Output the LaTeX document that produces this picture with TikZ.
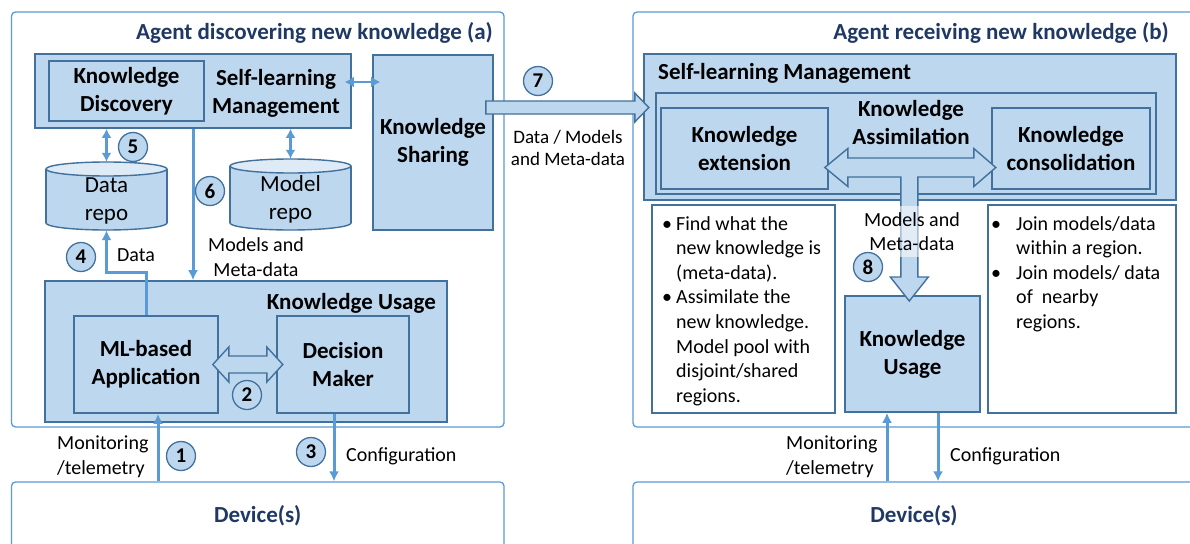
\documentclass[tikz,border=0pt]{standalone}
\usepackage{fontspec}
\setmainfont{Carlito}
\usetikzlibrary{arrows.meta,calc}
\definecolor{kfill}{HTML}{BDD7EE}
\definecolor{kborder}{HTML}{41719C}
\definecolor{kline}{HTML}{5B9BD5}
\definecolor{knavy}{HTML}{1F3864}
\definecolor{ktop}{HTML}{DEEBF7}
\begin{document}
\begin{tikzpicture}[x=1pt,y=-1pt,
  outerbox/.style={draw=kline, line width=1.3pt, rounded corners=4pt},
  kbox/.style={draw=kborder, fill=kfill, line width=1.6pt, inner sep=0pt, align=center},
  wbox/.style={draw=kborder, fill=white, line width=1.3pt},
  btext/.style={font=\fontsize{23}{28}\selectfont\bfseries, align=center, inner sep=0pt},
  rtext/.style={font=\fontsize{20}{24.6}\selectfont, align=center, inner sep=0pt},
  ctext/.style={font=\fontsize{23}{28.5}\selectfont, align=center, inner sep=0pt},
  ttext/.style={font=\fontsize{23}{28}\selectfont\bfseries, text=knavy, inner sep=0pt},
  conn/.style={draw=kline, line width=3pt, -{Latex[length=10pt,width=10pt]}},
  dconn/.style={draw=kline, line width=3pt, {Latex[length=9pt,width=10pt]}-{Latex[length=9pt,width=10pt]}},
  dconnsmall/.style={draw=kline, line width=2.6pt, {Latex[length=9pt,width=11pt]}-{Latex[length=9pt,width=11pt]}},
  num/.style={circle, draw=kborder, fill=kfill, line width=1.3pt, minimum size=29pt, inner sep=0pt, font=\fontsize{21}{24}\selectfont\bfseries},
  barrow/.style={draw=kborder, fill=kfill, line width=1.4pt, line join=miter},
  cylbody/.style={fill=kfill},
  cylline/.style={draw=kborder, line width=1.4pt},
]
\clip (0,0) rectangle (1190,543);
\fill[white] (0,0) rectangle (1190,543);

% ---------------- Left agent (a) ----------------
\node[outerbox, minimum width=492.5pt, minimum height=415pt] (outerA) at (257.75,219.5) {};
\node[ttext, anchor=east] (titleA) at (493,33) {Agent discovering new knowledge (a)};

\node[kbox, minimum width=316pt, minimum height=74pt] (slmA) at (193,91) {};
\node[kbox, btext, minimum width=155pt, minimum height=60pt] (kdA) at (126.5,91) {Knowledge\\Discovery};
\node[btext] (slmAtext) at (276,93) {Self-learning\\Management};
\node[kbox, btext, minimum width=120pt, minimum height=175pt] (ksA) at (433,142.5) {Knowledge\\Sharing};

% data repo cylinder
\draw[cylline, fill=kfill] (106.5,223) ellipse [x radius=60.5, y radius=7];
\fill[cylbody] (46,169) rectangle (167,223);
\draw[cylline] (46,169) -- (46,223) (167,169) -- (167,223);
\draw[cylline, fill=ktop] (106.5,169) ellipse [x radius=60.5, y radius=7];
\node[minimum width=121pt, minimum height=68pt, inner sep=0pt] (dataRepo) at (106.5,196) {};
\node[ctext] (dataRepoText) at (106.5,201) {Data\\repo};

% model repo cylinder
\draw[cylline, fill=kfill] (290.5,223) ellipse [x radius=60.5, y radius=7];
\fill[cylbody] (230,166) rectangle (351,223);
\draw[cylline] (230,166) -- (230,223) (351,166) -- (351,223);
\draw[cylline, fill=ktop] (290.5,166) ellipse [x radius=60.5, y radius=7];
\node[minimum width=121pt, minimum height=71pt, inner sep=0pt] (modelRepo) at (290.5,194.5) {};
\node[ctext] (modelRepoText) at (290.5,199.5) {Model\\repo};

% knowledge usage (a)
\node[kbox, minimum width=402pt, minimum height=141pt] (kuA) at (246,351.5) {};
\node[btext, anchor=east] (kuAtitle) at (436,303) {Knowledge Usage};
\node[kbox, btext, minimum width=144pt, minimum height=97pt] (mlA) at (146,364.5) {ML-based\\Application};
\node[kbox, btext, minimum width=132pt, minimum height=97pt] (dmA) at (343,364.5) {Decision\\Maker};
\draw[barrow] ([xshift=-6pt]mlA.east) -- ++(16,-17.5) -- ++(0,9) -- ++(38,0) -- ++(0,-9) -- ++(16,17.5)
  -- ++(-16,17.5) -- ++(0,-9) -- ++(-38,0) -- ++(0,9) -- cycle;
\node[num] (n2) at (247,395) {2};

% device (a)
\node[outerbox, ttext, minimum width=492.5pt, minimum height=68pt] (devA) at (257.75,516) {Device(s)};

% connectors (a)
\draw[dconn] (slmA.south -| dataRepo.north) -- (dataRepo.north);
\draw[dconn] (slmA.south -| modelRepo.north) -- (modelRepo.north);
\draw[dconnsmall] ([shift={(-7,-9)}]slmA.east) -- ([shift={(8,-9)}]ksA.west |- slmA.east);
\draw[conn] (slmA.south) -- (slmA.south |- kuA.north);
\draw[conn] (mlA.north) -- ++(0,-43) -| (dataRepo.south);
\draw[conn] ([xshift=12pt]mlA.south |- devA.north) -- ([xshift=12pt]mlA.south);
\draw[conn] ([xshift=-9pt]dmA.south) -- ([xshift=-9pt]dmA.south |- devA.north);

\node[num] (n5) at (133,147) {5};
\node[num] (n6) at (210,191) {6};
\node[num] (n4) at (81,257) {4};
\node[num] (n1) at (181,456) {1};
\node[num] (n3) at (311,452) {3};
\node[rtext] (dataLbl) at (136,255) {Data};
\node[rtext] (mmA) at (256,257) {Models and\\Meta-data};
\node[rtext, align=left, anchor=west] (monA) at (57,456.5) {Monitoring\\/telemetry};
\node[rtext, anchor=west] (confA) at (346,456) {Configuration};

% ---------------- Right agent (b) ----------------
\node[outerbox, minimum width=570pt, minimum height=415pt] (outerB) at (918,219.5) {};
\node[ttext, anchor=east] (titleB) at (1169,33) {Agent receiving new knowledge (b)};

\node[kbox, minimum width=532pt, minimum height=146pt] (slmB) at (910,127) {};
\node[btext, anchor=west] (slmBtitle) at (658,73) {Self-learning Management};
\node[kbox, minimum width=500pt, minimum height=101pt] (kaB) at (906,143.5) {};
\node[btext] (kaBtitle) at (911,122.5) {Knowledge\\Assimilation};
\node[kbox, btext, minimum width=167pt, minimum height=81pt] (keB) at (744.5,148.5) {Knowledge\\extension};
\node[kbox, btext, minimum width=158pt, minimum height=81pt] (kcB) at (1071,148.5) {Knowledge\\consolidation};

\node[wbox, minimum width=183pt, minimum height=208pt] (bulL) at (743.5,309) {};
\node[wbox, minimum width=188pt, minimum height=208pt] (bulR) at (1082,309) {};
\node[kbox, btext, minimum width=135pt, minimum height=116pt] (kuB) at (912.5,354) {Knowledge\\Usage};

% three-way block arrow
\coordinate (tL) at ([shift={(-4,19)}]keB.east);
\draw[barrow] (tL) -- ++(23,-19) -- ++(0,9.5) -- ++(126,0) -- ++(0,-9.5) -- ++(22,19) -- ++(-22,19)
  -- ++(0,-9.5) -- ++(-56,0) -- ++(0,100) -- ++(10.5,0) -- ++(-19,24) -- ++(-19,-24) -- ++(10.5,0)
  -- ++(0,-100) -- ++(-53,0) -- ++(0,9.5) -- cycle;
\fill[white, opacity=0.55] (898.5,206) rectangle (918.5,257);
\node[rtext] (mmB) at (912,231.5) {Models and\\Meta-data};
\node[num] (n8) at (868,267) {8};

\node[anchor=north west, align=left, inner sep=0pt, font=\fontsize{20}{24.6}\selectfont] (bulLtext) at (662,216)
 {\makebox[14pt][l]{•}Find what the\\\hspace*{14pt}new knowledge is\\\hspace*{14pt}(meta-data).\\
  \makebox[14pt][l]{•}Assimilate the\\\hspace*{14pt}new knowledge.\\\hspace*{14pt}Model pool with\\
  \hspace*{14pt}disjoint/shared\\\hspace*{14pt}regions.};
\node[anchor=north west, align=left, inner sep=0pt, font=\fontsize{20}{24.6}\selectfont] (bulRtext) at (991,216)
 {\makebox[25pt][l]{•}Join models/data\\\hspace*{25pt}within a region.\\
  \makebox[25pt][l]{•}Join models/ data\\\hspace*{25pt}of~~nearby\\\hspace*{25pt}regions.};

% device (b)
\node[outerbox, ttext, minimum width=562pt, minimum height=68pt] (devB) at (914,516) {Device(s)};
\draw[conn] ([xshift=-25.5pt]kuB.south |- devB.north) -- ([xshift=-25.5pt]kuB.south);
\draw[conn] ([xshift=25.5pt]kuB.south) -- ([xshift=25.5pt]kuB.south |- devB.north);
\node[rtext, align=left, anchor=west] (monB) at (786,456.5) {Monitoring\\/telemetry};
\node[rtext, anchor=west] (confB) at (950,456) {Configuration};

% ---------------- sharing arrow (7) ----------------
\coordinate (a7from) at ([shift={(-8,-35)}]ksA.east);
\draw[barrow] (a7from) -- ++(0,-6.5) -- ++(149,0) -- ++(0,-8) -- ++(14,14.5) -- ++(-14,14.5) -- ++(0,-8) -- ++(-149,0) -- cycle;
\node[num] (n7) at (538,81) {7};
\node[font=\fontsize{19}{22}\selectfont, align=center, inner sep=0pt] (a7lbl) at (568,148) {Data / Models\\and Meta-data};
\end{tikzpicture}
\end{document}
